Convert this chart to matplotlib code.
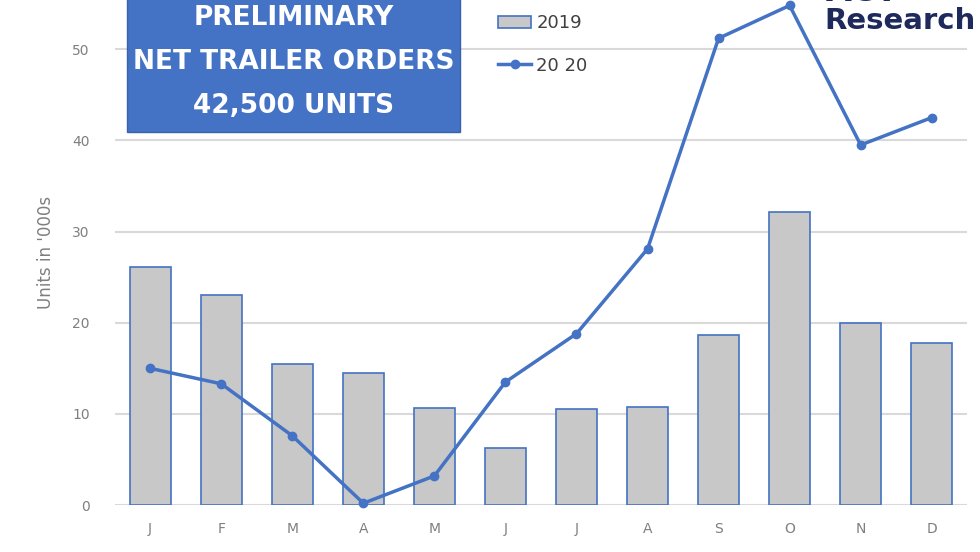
import matplotlib.pyplot as plt
from matplotlib.patches import Rectangle
import numpy as np

# Data (units in '000s)
months = ["J", "F", "M", "A", "M", "J", "J", "A", "S", "O", "N", "D"]
orders_2019 = [26.1, 23.0, 15.5, 14.5, 10.6, 6.3, 10.5, 10.8, 18.7, 32.1, 20.0, 17.8]
orders_2020 = [15.0, 13.3, 7.6, 0.2, 3.2, 13.5, 18.8, 28.1, 51.2, 54.8, 39.5, 42.5]
y_ticks = [0, 10, 20, 30, 40, 50]

blue = "#4472c4"
grid_gray = "#d9d9d9"
text_gray = "#7f7f7f"

W, H = 980, 552
fig = plt.figure(figsize=(9.8, 5.52), dpi=100)
ax = fig.add_axes([0.117, 0.085, 0.87, 0.915])

x = np.arange(len(months))
bars = ax.bar(x, orders_2019, width=0.58, color="#c8c8c8", edgecolor=blue,
              linewidth=1.2, label="2019", zorder=2)
line, = ax.plot(x, orders_2020, color=blue, linewidth=2.5, marker="o",
                markersize=6, label="20 20", zorder=3, clip_on=False)

ax.set_xlim(-0.5, len(months) - 0.5)
ax.set_ylim(0, 55.4)
ax.set_yticks(y_ticks)
ax.set_xticks(x)
ax.set_xticklabels(months)
ax.tick_params(axis="both", length=0, colors=text_gray, labelsize=10)
ax.tick_params(axis="y", pad=18)
ax.tick_params(axis="x", pad=12)
ax.yaxis.grid(True, color=grid_gray, linewidth=1.5, zorder=0)
ax.set_axisbelow(True)
for s in ax.spines.values():
    s.set_visible(False)
ax.set_ylabel("Units in '000s", color=text_gray, fontsize=12, labelpad=12)

# Title box (runs off the top of the image)
fig.patches.append(Rectangle((127 / W, 1 - 132 / H), 333 / W, 140 / H,
                             transform=fig.transFigure, facecolor=blue,
                             edgecolor="#3a62a8", linewidth=1, zorder=5))
fig.text(293.5 / W, 1 - 62 / H, "PRELIMINARY\nNET TRAILER ORDERS\n42,500 UNITS",
         ha="center", va="center", color="white", fontsize=19,
         fontweight="bold", linespacing=1.9, zorder=6)

# Legend
fig.legend([bars, line], ["2019", "20 20"], loc="upper left",
           bbox_to_anchor=(493 / W, 1 - 9 / H), frameon=False,
           fontsize=13, handlelength=1.8, labelspacing=1.35,
           handletextpad=0.3, labelcolor="#404040",
           borderaxespad=0, borderpad=0.3)

# Logo (cut off at the top of the image)
fig.text(976 / W, 1 - 21 / H, "Research", ha="right", va="center",
         color="#1f2a5c", fontsize=21, fontweight="bold")
fig.text(826 / W, 1 - 8 / H, "ACT", ha="left", va="bottom",
         color="#1f2a5c", fontsize=24, fontweight="bold")

fig.savefig("out.png", dpi=100)
